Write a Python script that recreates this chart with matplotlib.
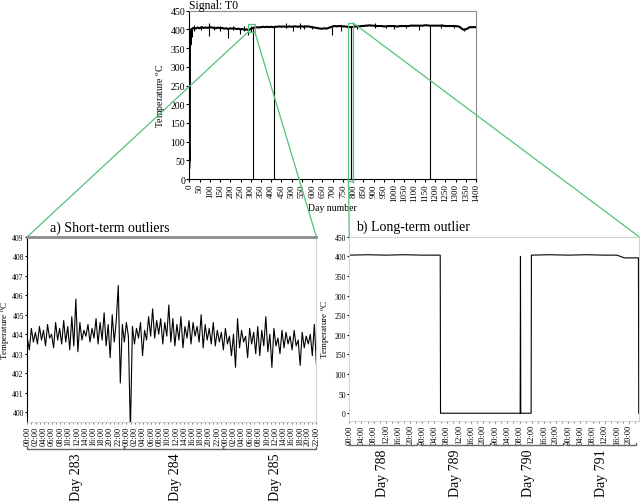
import numpy as np
import matplotlib
matplotlib.use("Agg")
import matplotlib.pyplot as plt
from matplotlib.patches import ConnectionPatch, Rectangle

plt.rcParams["font.family"] = ["Liberation Serif", "DejaVu Serif"]
plt.rcParams["mathtext.fontset"] = "stix"

# ---- overview of signal T0 (day number vs temperature) ----
start_days = [0, 1, 2, 2.5, 3, 4, 5, 7, 8]
start_temps = [30, 45, 80, 50, 340, 385, 395, 360, 400]

base_days = list(range(10, 1401, 10))
base_temps = [
    400, 404, 402, 405, 403, 406, 404, 405, 404, 406,
    405, 404, 403, 405, 403, 404, 402, 403, 401, 403,
    402, 403, 401, 402, 400, 401, 399, 400, 398, 401,
    404, 405, 406, 405, 406, 407, 406, 407, 406, 407,
    406, 407, 407, 408, 407, 408, 407, 407, 408, 407,
    408, 408, 407, 408, 408, 407, 408, 408, 407, 406,
    405, 404, 403, 402, 402, 403, 402, 404, 406, 408,
    409, 408, 409, 409, 408, 408, 407, 406, 406, 407,
    408, 408, 408, 409, 409, 410, 410, 411, 410, 410,
    409, 409, 409, 409, 408, 408, 409, 409, 409, 409,
    408, 408, 409, 409, 409, 409, 409, 410, 410, 410,
    410, 410, 410, 410, 411, 411, 410, 410, 410, 410,
    410, 410, 410, 410, 409, 409, 409, 409, 409, 409,
    408, 407, 402, 399, 400, 403, 406, 406, 406, 406,
]

# short vertical excursions away from the baseline: (day, low, high)
spike_days = [12, 25, 58, 94, 120, 150, 188, 215, 248, 265, 287, 300, 313, 415,
              470, 505, 540, 560, 600, 695, 740, 789.3, 790.5, 820, 905, 960,
              1000, 1060, 1120, 1175, 1230, 1290, 1340]
spike_lows = [380, 395, 398, 383, 398, 397, 376, 399, 389, 396, 386, 394, 0, 0,
              403, 397, 402, 401, 400, 385, 397, 0, 0, 402, 404, 403,
              400, 404, 398, 0, 404, 403, 396]
spike_highs = [404, 411, 409, 417, 409, 410, 404, 408, 403, 408, 401, 408, 404, 407,
               418, 408, 417, 411, 410, 407, 409, 407, 408, 413, 416, 411,
               412, 412, 410, 410, 414, 412, 405]

# ---- a) short-term outliers, days 283-285, half-hourly ----
short_temps = [
    403.8, 403.2, 404.3, 403.6, 404.1, 403.5, 404.4, 403.7, 404.2, 403.4, 404.5, 403.8,
    404.0, 403.3, 404.6, 403.7, 404.3, 403.5, 404.7, 403.6, 404.4, 403.2, 404.9, 403.4,
    405.8, 403.1, 404.6, 403.7, 404.2, 403.9, 404.5, 403.6, 404.3, 403.8, 404.8, 403.5,
    404.6, 403.7, 405.1, 403.4, 404.5, 402.8, 405.0, 403.6, 404.7, 406.5, 401.5, 404.5,
    403.6, 404.6, 403.9, 399.0, 404.4, 403.5, 404.3, 403.8, 404.6, 402.9, 404.2, 403.7,
    404.9, 403.9, 405.3, 403.8, 404.7, 404.0, 404.8, 403.5, 404.6, 403.9, 405.5, 403.6,
    404.8, 403.4, 404.5, 403.7, 404.9, 403.3, 404.4, 403.8, 404.7, 403.5, 404.6, 403.9,
    404.4, 403.6, 405.0, 403.3, 404.5, 403.7, 404.3, 403.5, 404.6, 403.4, 404.2, 403.6,
    404.1, 403.2, 404.3, 403.5, 403.9, 402.9, 404.0, 402.3, 404.8, 403.3, 404.2, 403.6,
    403.9, 402.8, 404.3, 403.5, 404.1, 403.0, 404.4, 402.9, 404.2, 403.4, 404.9, 403.1,
    404.0, 402.3, 404.3, 403.4, 403.8, 403.0, 404.2, 403.3, 404.1, 403.5, 403.9, 403.2,
    404.2, 403.4, 403.7, 402.4, 404.1, 403.3, 403.9, 403.5, 404.0, 402.9, 404.5, 402.5,
]
short_days = ["Day 283", "Day 284", "Day 285"]
short_hour_labels = ["00:00", "02:00", "04:00", "06:00", "08:00", "10:00",
                     "12:00", "14:00", "16:00", "18:00", "20:00", "22:00"]

# ---- b) long-term outlier, days 788-791 (hours from start of day 788) ----
long_hours = [0, 6, 12, 18, 24, 29.9, 30.0, 56.2, 56.3, 56.4, 59.8, 59.9,
              66, 72, 78, 84, 88, 90.5, 93, 95.1, 95.2]
long_temps = [403, 404, 403, 404, 403, 403, 0, 0, 400, 0, 0, 403,
              404, 403, 404, 403, 403, 396, 396, 396, 0]
long_days = ["Day 788", "Day 789", "Day 790", "Day 791"]
long_hour_labels = ["00:00", "04:00", "08:00", "12:00", "16:00", "20:00"]

green = "#55c07a"
grey = "#8c8c8c"
light = "#d4d4d4"

fig = plt.figure(figsize=(6.4, 5.02), dpi=100)
ax_top = fig.add_axes([0.2958, 0.6414, 0.448, 0.3353])
ax_a = fig.add_axes([0.0427, 0.1574, 0.4516, 0.3691])
ax_b = fig.add_axes([0.5458, 0.1600, 0.4527, 0.3665])

# overview
pts = sorted(zip(start_days + base_days, start_temps + base_temps))
ax_top.plot([p[0] for p in pts], [p[1] for p in pts], color="black", lw=1.5)
ax_top.vlines(spike_days, spike_lows, spike_highs, color="black", lw=0.8)
ax_top.set_xlim(0, 1400)
ax_top.set_ylim(0, 450)
ax_top.set_xticks(range(0, 1401, 50))
ax_top.set_yticks(range(0, 451, 50))
ax_top.tick_params(axis="x", labelrotation=90, labelsize=6.5, length=2, pad=1)
ax_top.tick_params(axis="y", labelsize=7, length=2, pad=1)
ax_top.set_xlabel("Day number", fontsize=7, labelpad=1)
ax_top.set_ylabel(r"Temperature $^{\rm o}$C", fontsize=7, labelpad=2)
ax_top.set_title("Signal: T0", loc="left", fontsize=8.5, pad=1.5)
for s in ["top", "right"]:
    ax_top.spines[s].set_color(grey)
for s in ax_top.spines.values():
    s.set_linewidth(0.8)

box_a = (287, 393, 33, 21)
box_b = (777, -4, 24, 421)
for bx in (box_a, box_b):
    ax_top.add_patch(Rectangle(bx[:2], bx[2], bx[3], fill=False, ec=green,
                               lw=0.9, clip_on=False, zorder=5))

# short-term panel
t_a = np.linspace(0, 70, len(short_temps))
ax_a.plot(t_a, short_temps, color="black", lw=0.8)
ax_a.set_xlim(0, 70)
ax_a.set_ylim(399.5, 409)
ax_a.set_yticks(range(400, 410))
ax_a.set_xticks(np.arange(0, 71, 2))
ax_a.set_xticklabels(short_hour_labels * 3)
ax_a.set_xticks(np.arange(0, 71, 1), minor=True)
ax_a.tick_params(axis="x", which="both", labelrotation=90, labelsize=6,
                 length=1.5, pad=1, color="#777777")
ax_a.tick_params(axis="y", labelsize=5.5, length=1.5, pad=1)
ax_a.set_ylabel(r"Temperature $^{\rm o}$C", fontsize=6.5, labelpad=0.5)
ax_a.text(0.08, 1.015, "a) Short-term outliers", transform=ax_a.transAxes,
          fontsize=10, ha="left", va="bottom")
ax_a.spines["top"].set_color(grey)
ax_a.spines["top"].set_linewidth(2)
ax_a.spines["right"].set_color(light)
ax_a.spines["bottom"].set_color(light)
ax_a.spines["left"].set_linewidth(0.8)

trans_a = ax_a.get_xaxis_transform()
for i, name in enumerate(short_days):
    x0, x1 = max(i * 24 - 0.6, 0), min(i * 24 + 23.4, 70)
    ax_a.plot([x0, x0, x1, x1], [-0.135, -0.147, -0.147, -0.135], color="#666666",
              lw=1.0, transform=trans_a, clip_on=False)
    ax_a.text(min(i * 24 + 12, 70), -0.165, name, transform=trans_a, rotation=90,
              fontsize=10, ha="center", va="top")

# long-term panel
ax_b.plot(long_hours, long_temps, color="black", lw=0.8)
ax_b.set_xlim(0, 95.3)
ax_b.set_ylim(-19, 450)
ax_b.set_yticks(range(0, 451, 50))
ax_b.set_xticks(np.arange(0, 96, 4))
ax_b.set_xticklabels(long_hour_labels * 4)
ax_b.set_xticks(np.arange(0, 96, 2), minor=True)
ax_b.tick_params(axis="x", which="both", labelrotation=90, labelsize=6,
                 length=1.5, pad=1, color="#777777")
ax_b.tick_params(axis="y", labelsize=5.5, length=1.5, pad=1)
ax_b.set_ylabel(r"Temperature $^{\rm o}$C", fontsize=6.5, labelpad=2)
ax_b.text(0.022, 1.02, "b) Long-term outlier", transform=ax_b.transAxes,
          fontsize=10, ha="left", va="bottom")
for s in ax_b.spines.values():
    s.set_color(light)
    s.set_linewidth(0.8)

trans_b = ax_b.get_xaxis_transform()
for i, name in enumerate(long_days):
    x0, x1 = i * 24 - 0.5 if i else 0, i * 24 + 22.3
    ax_b.plot([x0, x0, x1, x1], [-0.121, -0.133, -0.133, -0.121], color="#666666",
              lw=1.0, transform=trans_b, clip_on=False)
    ax_b.text(i * 24 + 11, -0.153, name, transform=trans_b, rotation=90,
              fontsize=10, ha="center", va="top")

# zoom connectors
links = [((box_a[0], box_a[1]), ax_a, (0, 1)),
         ((box_a[0] + box_a[2], box_a[1]), ax_a, (1, 1)),
         ((box_b[0], box_b[1]), ax_b, (0, 1)),
         ((box_b[0] + box_b[2], box_b[1] + box_b[3]), ax_b, (1, 1))]
for xy_a, target, xy_b in links:
    con = ConnectionPatch(xyA=xy_a, coordsA=ax_top.transData, xyB=xy_b,
                          coordsB=target.transAxes, color=green, lw=0.9)
    fig.add_artist(con)

fig.savefig("out.png", dpi=100)
